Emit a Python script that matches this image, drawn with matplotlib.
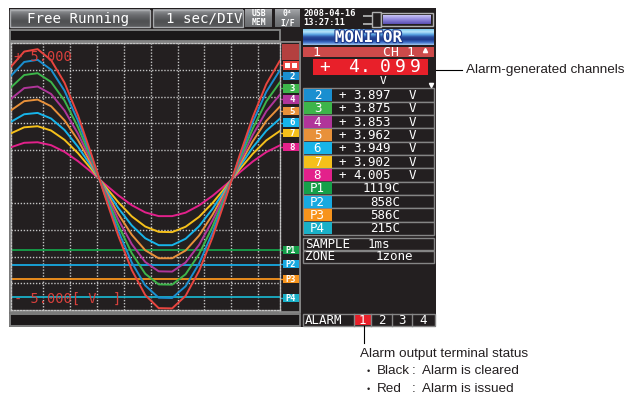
import matplotlib.pyplot as plt
import matplotlib.colors as mcolors
import matplotlib.patheffects as pe
import numpy as np

# Trace time axis (1 sec/DIV) and the eight voltage channels
t_sec = [-0.2, 0.3, 0.8, 1.3, 1.8, 2.3, 2.8, 3.3, 3.8, 4.3, 4.8,
         5.3, 5.8, 6.3, 6.8, 7.3, 7.8, 8.3, 8.8, 9.3, 9.8]
ch1 = [4.11, 4.69, 4.78, 4.37, 3.52, 2.30, 0.83, -0.72, -2.22, -3.50, -4.44,
       -4.93, -4.94, -4.47, -3.54, -2.28, -0.79, 0.77, 2.24, 3.47, 4.34]
ch2 = [3.77, 4.30, 4.38, 4.01, 3.22, 2.10, 0.76, -0.67, -2.04, -3.22, -4.08,
       -4.54, -4.55, -4.11, -3.26, -2.10, -0.73, 0.70, 2.05, 3.18, 3.98]
ch3 = [3.34, 3.81, 3.88, 3.55, 2.85, 1.86, 0.66, -0.61, -1.83, -2.87, -3.64,
       -4.04, -4.05, -3.66, -2.91, -1.88, -0.66, 0.61, 1.81, 2.82, 3.53]
ch4 = [2.91, 3.32, 3.38, 3.10, 2.48, 1.61, 0.57, -0.54, -1.61, -2.53, -3.20,
       -3.55, -3.56, -3.22, -2.56, -1.65, -0.59, 0.52, 1.57, 2.45, 3.07]
ch5 = [2.48, 2.83, 2.89, 2.64, 2.11, 1.37, 0.47, -0.48, -1.40, -2.18, -2.76,
       -3.06, -3.06, -2.77, -2.21, -1.43, -0.52, 0.43, 1.33, 2.09, 2.62]
ch6 = [2.05, 2.34, 2.39, 2.18, 1.75, 1.12, 0.38, -0.42, -1.18, -1.83, -2.31,
       -2.57, -2.57, -2.33, -1.86, -1.21, -0.45, 0.35, 1.10, 1.72, 2.17]
ch7 = [1.62, 1.85, 1.89, 1.73, 1.38, 0.88, 0.28, -0.35, -0.96, -1.49, -1.87,
       -2.07, -2.08, -1.88, -1.51, -0.99, -0.38, 0.26, 0.86, 1.36, 1.71]
ch8 = [1.10, 1.27, 1.29, 1.18, 0.93, 0.58, 0.17, -0.28, -0.70, -1.07, -1.34,
       -1.48, -1.48, -1.35, -1.08, -0.72, -0.30, 0.15, 0.57, 0.92, 1.17]
ch_colors = ['#e8453f', '#1a8fd0', '#3db54a', '#b0359a',
             '#e8913a', '#17b4e9', '#f5c01b', '#e3218b']

# Pulse channels drawn as flat lines (screen scale, V)
p_names = ['P1', 'P2', 'P3', 'P4']
p_levels = [-2.76, -3.30, -3.84, -4.53]
p_values = ['1119C', '858C', '586C', '215C']
p_colors = ['#15a04a', '#17a9e1', '#f7941d', '#1ab0c8']

# Monitor panel readings
ch1_value = '4.099'
mon_values = ['3.897', '3.875', '3.853', '3.962', '3.949', '3.902', '4.005']

SCREEN = '#231f20'
GRAY = '#858585'
MONO = 'DejaVu Sans Mono'
W, H = 640, 396

fig = plt.figure(figsize=(6.4, 3.96), dpi=100)
bg = fig.add_axes([0, 0, 1, 1])
bg.axis('off')


def box(x0, y0, x1, y1, fc='none', ec='none', lw=1.0, z=1):
    bg.add_patch(plt.Rectangle((x0, y0), x1 - x0, y1 - y0, facecolor=fc,
                               edgecolor=ec, linewidth=lw, zorder=z))


def grad(x0, y0, x1, y1, stops, z=1):
    # vertical colour gradient given as list of colours top -> bottom
    cols = np.array([mcolors.to_rgb(c) for c in stops])
    pos = np.linspace(0, 1, len(cols))
    s = np.linspace(0, 1, 40)
    img = np.stack([np.interp(s, pos, cols[:, k]) for k in range(3)], axis=1)
    bg.imshow(img[:, None, :], extent=(x0, x1, y1, y0), aspect='auto',
              interpolation='bilinear', zorder=z)


def txt(x, y, s, size=9, color='white', ha='left', weight='normal', z=5, family=MONO):
    bg.text(x, y, s, fontsize=size, color=color, ha=ha, va='center',
            fontweight=weight, family=family, zorder=z)


# device screen
box(9, 8, 436, 327, fc=SCREEN, z=0)

# top buttons
for x0, x1 in [(10, 150), (153, 243)]:
    grad(x0, 9.5, x1, 27, ['#9a9c9f', '#6b6d70', '#4f5052', '#5a5b5d'])
    box(x0, 9.5, x1, 27, ec='#a9abae', lw=1.0, z=2)
txt(27, 18.5, 'Free Running', size=10.2)
txt(242, 18.5, '1 sec/DIV', size=10.2, ha='right')
for x0, x1, top, bot in [(245, 272, 'USB', 'MEM'), (275, 300, '0⁴', 'I/F')]:
    grad(x0, 9.5, x1, 27, ['#a4a6a9', '#7b7d80', '#6a6c6f'])
    txt((x0 + x1) / 2, 14, top, size=5.8, ha='center', weight='bold')
    txt((x0 + x1) / 2, 22.5, bot, size=5.8, ha='center', weight='bold')
txt(303, 13.5, '2008-04-16', size=6.2, weight='bold')
txt(303, 22.5, '13:27:11', size=6.2, weight='bold')

# slider / memory icon
box(363, 14.5, 372, 16.5, fc='#a0a0a0')
box(363, 22.5, 372, 24.5, fc='#a0a0a0')
box(372, 12, 381, 27, fc=SCREEN, ec='#b0b0b0', lw=1.0)
box(381, 13, 433, 26, fc=SCREEN, ec='#b0b0b0', lw=1.0)
grad(383, 15, 431, 24, ['#c9c3f5', '#8f86dc', '#5a4fb2'], z=2)

# message bar above plot, status bar below
box(10, 30, 280, 40.5, fc='#1b1819', ec=GRAY, lw=1.3)
box(10, 314, 299.5, 325.5, fc='#1b1819', ec=GRAY, lw=1.3)

# frame around plot and tag column
box(10, 42, 300, 312, ec=GRAY, lw=1.3, z=1)
box(280, 42, 300, 312, fc=SCREEN, ec=GRAY, lw=1.3, z=1)
box(282, 43.5, 298.5, 60, fc='#b4403f', z=2)

# plot area
ax = fig.add_axes([11 / W, 1 - 310 / H, 269 / W, (310 - 43.3) / H])
ax.set_facecolor(SCREEN)
ax.set_xlim(-0.19, 9.81)
ax.set_ylim(-5, 5)
dots = (0, (1, 1.2))
for gx in range(1, 10):
    ax.axvline(gx, color='#c4c4c4', lw=1.0, ls=dots, zorder=1)
for gy in range(-4, 5):
    ax.axhline(gy, color='#c4c4c4', lw=1.0, ls=dots, zorder=1)
for sp in ax.spines.values():
    sp.set_color('#c4c4c4')
    sp.set_linestyle(dots)
    sp.set_linewidth(1.0)
ax.set_xticks([])
ax.set_yticks([])

for lvl, col in zip(p_levels, p_colors):
    ax.axhline(lvl, color=col, lw=1.3, zorder=2)

traces = [ch1, ch2, ch3, ch4, ch5, ch6, ch7, ch8]
for i in range(7, -1, -1):
    ax.plot(t_sec, traces[i], color=ch_colors[i], lw=1.4, zorder=3 + (7 - i))

ax.text(0.01, 0.975, '+ 5.000', transform=ax.transAxes, color='#d8403c',
        fontsize=9.8, family=MONO, va='top', zorder=20)
ax.text(0.01, 0.015, '- 5.000[ V  ]', transform=ax.transAxes, color='#d8403c',
        fontsize=9.8, family=MONO, va='bottom', zorder=20)

# channel tags next to the plot
tag_y = [65.3, 76, 88.3, 99.3, 111, 122.5, 133.2, 146.7]
for i, y in enumerate(tag_y):
    bg.plot([277, 283], [y, y], color=ch_colors[i], lw=1.0, zorder=3)
    box(282.5, y - 4.2, 298.5, y + 4.2, fc=ch_colors[i], z=3)
    if i == 0:
        box(284.5, y - 2.6, 290, y + 2.6, fc='white', z=4)
        box(291.5, y - 2.6, 297, y + 2.6, fc='white', z=4)
    else:
        txt(292, y + 0.3, str(i + 1), size=6.5, ha='center', weight='bold')
p_tag_y = [250.2, 264.2, 279.2, 297.8]
for i, y in enumerate(p_tag_y):
    bg.plot([278, 283], [y, y], color=p_colors[i], lw=1.0, zorder=3)
    box(282.5, y - 4.2, 298.5, y + 4.2, fc=p_colors[i], z=3)
    txt(290.5, y + 0.3, p_names[i], size=6.2, ha='center', weight='bold')

# MONITOR header
grad(303, 29.5, 434, 45.5, ['#7cc9f0', '#b9e5f9', '#5aa6e4', '#2a4c9e', '#1d3a8c',
                            '#3b6cc6', '#9fc6ee'])
bg.text(368.5, 37.5, 'MONITOR', fontsize=11.5, color='white', ha='center', va='center',
        fontweight='bold', family=MONO, zorder=6,
        path_effects=[pe.withStroke(linewidth=1.6, foreground='#1d3a8c')])

# channel 1 (alarm) block
box(303, 46.5, 434, 57, fc='#cc4a4a', z=2)
txt(316, 52, '1', size=9.5, ha='center')
txt(383, 52, 'CH 1', size=9.5)
bg.plot([424.5], [49.5], marker='^', color='white', ms=3, zorder=6)
box(313, 59.3, 428, 75, fc='#e8202a', z=2)
txt(319, 67.2, '+', size=13)
for ch, cx in zip(ch1_value, [353.5, 365, 385, 400, 415]):
    txt(cx, 67.2, ch, size=13, ha='center')
txt(383, 81.5, 'V', size=8, ha='center')
bg.plot([430.5], [84.5], marker='v', color='white', ms=3, zorder=6)

# channel rows 2..8 and pulse rows
row_h = 13.33
for k in range(11):
    y0 = 88.3 + k * row_h
    y1 = y0 + row_h
    yc = (y0 + y1) / 2 + 0.4
    if k < 7:
        col = ch_colors[k + 1]
        label = str(k + 2)
    else:
        col = p_colors[k - 7]
        label = p_names[k - 7]
    box(303, y0, 434, y1, fc=SCREEN, ec=GRAY, lw=1.0, z=2)
    box(303.5, y0 + 0.6, 331.7, y1 - 0.6, fc=col, z=3)
    txt(317.5, yc, label, size=9, ha='center')
    if k < 7:
        txt(342.5, yc, '+', size=9, ha='center')
        txt(353, yc, mon_values[k], size=9)
        txt(412.5, yc, 'V', size=9, ha='center')
    else:
        txt(400, yc, p_values[k - 7], size=9, ha='right')

box(303, 238.3, 434, 249.8, fc=SCREEN, ec=GRAY, lw=1.0, z=2)
txt(305, 244.3, 'SAMPLE', size=9)
txt(368, 244.3, '1ms', size=9)
box(303, 250.5, 434, 262.5, fc=SCREEN, ec=GRAY, lw=1.0, z=2)
txt(305, 256.8, 'ZONE', size=9)
txt(376, 256.8, '1zone', size=9)

# ALARM status bar
box(302.7, 314.3, 434.5, 325.5, fc=SCREEN, ec=GRAY, lw=1.0, z=2)
txt(305, 320.3, 'ALARM', size=9)
box(354, 314.8, 371, 325, fc='#e8202a', z=3)
for x in [353.5, 371.3, 391.5, 412.3]:
    bg.plot([x, x], [314.3, 325.5], color=GRAY, lw=1.0, zorder=4)
for s, cx in zip(['1', '2', '3', '4'], [362.5, 381.5, 402, 423]):
    txt(cx, 320.5, s, size=9, ha='center')

# callouts
ANN = 'Liberation Sans'
bg.plot([436, 462], [70, 70], color='black', lw=0.8)
txt(466, 70, 'Alarm-generated channels', size=9.7, color='#231f20', family=ANN)
bg.plot([363.5, 363.5], [326, 343], color='black', lw=0.8)
txt(360, 353.5, 'Alarm output terminal status', size=9.7, color='#231f20', family=ANN)
for y, a, b in [(371, 'Black', 'Alarm is cleared'), (389, 'Red', 'Alarm is issued')]:
    txt(366.5, y, '•', size=6.5, color='#231f20', family=ANN)
    txt(376.5, y, a, size=9.7, color='#231f20', family=ANN)
    txt(411.5, y, ':', size=9.7, color='#231f20', family=ANN)
    txt(421.5, y, b, size=9.7, color='#231f20', family=ANN)

bg.set_xlim(0, W)
bg.set_ylim(H, 0)
fig.savefig('out.png', dpi=100, facecolor='white')
